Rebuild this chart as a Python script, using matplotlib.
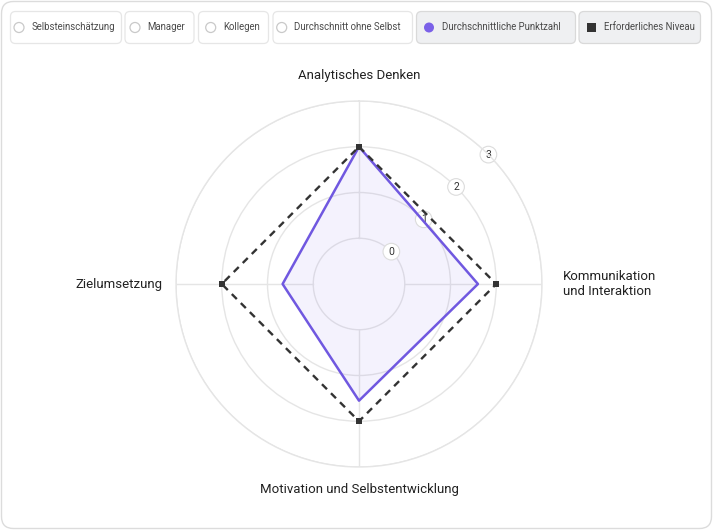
import numpy as np
import matplotlib
matplotlib.use("Agg")
import matplotlib.pyplot as plt
from matplotlib.patches import FancyBboxPatch, Circle, Rectangle

plt.rcParams["font.family"] = ["Roboto", "DejaVu Sans"]

# --- data ---
categories = ["Analytisches Denken", "Kommunikation\nund Interaktion",
              "Motivation und Selbstentwicklung", "Zielumsetzung"]
avg_score = [2.0, 1.6, 1.55, 0.67]
required = [2.0, 2.0, 2.0, 2.0]
r_ticks = [0, 1, 2, 3]
legend_labels = ["Selbsteinschätzung", "Manager", "Kollegen", "Durchschnitt ohne Selbst",
                 "Durchschnittliche Punktzahl", "Erforderliches Niveau"]
legend_active = [False, False, False, False, True, True]

# --- layout (pixels) ---
W, H = 713, 530
CX, CY, R = 359, 284, 183
btn_x = [(10.5, 121.5), (125, 194), (198.5, 268.5), (273, 412.5), (416.5, 575.5), (579, 700.5)]
mark_x = [19, 135, 210.7, 281.7, 429, 591.3]
GRID = "#e5e5e5"
PURPLE = "#7058e0"
DARK = "#333333"

fig = plt.figure(figsize=(W / 100, H / 100), dpi=100)
bg = fig.add_axes([0, 0, 1, 1], zorder=0)
bg.set_xlim(0, W)
bg.set_ylim(H, 0)
bg.axis("off")
bg.add_patch(FancyBboxPatch((1.5, 1.5), W - 3, H - 3, boxstyle="round,pad=0,rounding_size=12",
                            fc="white", ec="#dcdcdc", lw=1))

# legend buttons
for i, lab in enumerate(legend_labels):
    x0, x1 = btn_x[i]
    active = legend_active[i]
    bg.add_patch(FancyBboxPatch((x0, 11.5), x1 - x0, 32, boxstyle="round,pad=0,rounding_size=5",
                                fc="#eff0f2" if active else "white",
                                ec="#d9d9d9" if active else "#e6e6e6", lw=0.9))
    mx = mark_x[i]
    if not active:
        bg.add_patch(Circle((mx, 27.5), 5, fc="white", ec="#c9c9c9", lw=0.9))
    elif i == 4:
        bg.add_patch(Circle((mx, 27.5), 5, fc="#7b61e8", ec="none"))
    else:
        bg.add_patch(Rectangle((mx - 4.7, 22.8), 9.4, 9.4, fc=DARK, ec="none"))
    bg.text(mx + 12.5, 27.5, lab, ha="left", va="center", fontsize=6.9, color="#4a4a4a")

# --- radar ---
ax = fig.add_axes([(CX - R) / W, (H - CY - R) / H, 2 * R / W, 2 * R / H],
                  projection="polar", zorder=1)
ax.patch.set_alpha(0)
ax.set_theta_zero_location("N")
ax.set_theta_direction(-1)
ax.set_ylim(-1, 3)
ax.set_yticks(r_ticks)
ax.set_yticklabels([])
ax.set_xticks([])
ax.yaxis.grid(True, color=GRID, lw=1)
ax.xaxis.grid(False)
ax.spines["polar"].set_color(GRID)
ax.spines["polar"].set_linewidth(1)

theta = np.arange(len(categories)) * 2 * np.pi / len(categories)
for t in theta:
    ax.plot([t, t], [r_ticks[0], r_ticks[-1]], color=GRID, lw=1, zorder=0.5)

th_c = np.append(theta, theta[0])
avg_c = np.append(avg_score, avg_score[0])
req_c = np.append(required, required[0])

ax.fill(th_c, avg_c, color="#7b61e8", alpha=0.08, lw=0, zorder=2)
for v in r_ticks:
    ax.text(np.pi / 4, v, str(v), ha="center", va="center", fontsize=7.5, color="#333",
            bbox=dict(boxstyle="circle,pad=0.32", fc="white", ec="#dcdcdc", lw=0.8), zorder=2.5)
ax.plot(th_c, avg_c, color=PURPLE, lw=1.8, zorder=3)
ax.plot(th_c, req_c, color=DARK, lw=1.7, ls=(0, (3, 2.4)), zorder=4)
ax.plot(theta, required, ls="none", marker="s", ms=5, mew=0, color=DARK, zorder=5)

# category labels
offsets = [(0, 26), (21, 0), (0, -22), (-14, 0)]
aligns = [("center", "center"), ("left", "center"), ("center", "center"), ("right", "center")]
for t, lab, off, (ha, va) in zip(theta, categories, offsets, aligns):
    ax.annotate(lab, xy=(t, r_ticks[-1]), xytext=off, textcoords="offset pixels",
                ha=ha, va=va, fontsize=9.5, color="#222", linespacing=1.15,
                annotation_clip=False)

fig.savefig("out.png", dpi=100, facecolor="white")
